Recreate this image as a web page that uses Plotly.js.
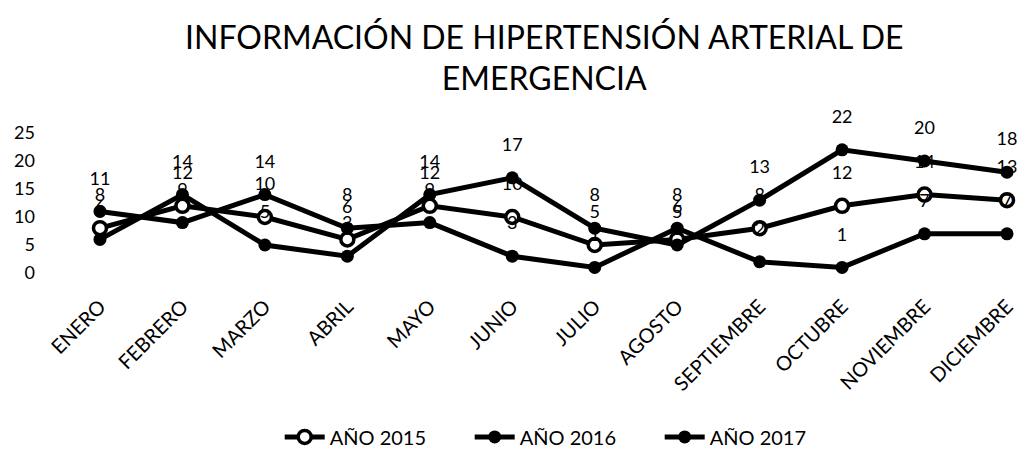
<!DOCTYPE html>
<html>
<head>
<meta charset="utf-8">
<script src="https://cdn.plot.ly/plotly-3.0.1.min.js"></script>
<style>html,body{margin:0;padding:0;background:#fff;}#chart{width:1023px;height:450px;}</style>
</head>
<body>
<div id="chart"></div>
<script>
const months = ["ENERO","FEBRERO","MARZO","ABRIL","MAYO","JUNIO","JULIO","AGOSTO","SEPTIEMBRE","OCTUBRE","NOVIEMBRE","DICIEMBRE"];
const year2015 = [8, 12, 10, 6, 12, 10, 5, 6, 8, 12, 14, 13];
const year2016 = [11, 9, 14, 8, 9, 3, 1, 8, 2, 1, 7, 7];
const year2017 = [6, 14, 5, 3, 14, 17, 8, 5, 13, 22, 20, 18];
const seriesNames = ["AÑO 2015", "AÑO 2016", "AÑO 2017"];

const FONT = "Lato, 'Open Sans', sans-serif";
const allSeries = [year2015, year2016, year2017];
const traces = [];
allSeries.forEach((vals, i) => {
  traces.push({
    x: months, y: vals, name: seriesNames[i], type: "scatter", mode: "lines+markers",
    line: {color: "#000", width: 5},
    marker: {size: 13, color: i === 0 ? "#fff" : "#000", line: {color: "#000", width: i === 0 ? 3.5 : 0}},
    cliponaxis: false
  });
});
allSeries.forEach((vals, i) => {
  traces.push({
    x: months, y: vals, type: "scatter", mode: "markers+text", showlegend: false, hoverinfo: "skip",
    text: vals.map(String), textposition: "top center",
    textfont: {family: FONT, size: 18, color: "#000"},
    marker: {size: 34, opacity: 0},
    cliponaxis: false
  });
});

const layout = {
  width: 1023, height: 450,
  paper_bgcolor: "#fff", plot_bgcolor: "#fff",
  margin: {l: 50, r: 8, t: 133, b: 177},
  title: {text: "INFORMACIÓN DE HIPERTENSIÓN ARTERIAL DE<br>EMERGENCIA", font: {family: FONT, size: 32, color: "#000"},
          x: 0.532, xanchor: "center", y: 0.892, yanchor: "top", yref: "container"},
  xaxis: {type: "category", range: [-0.606, 11.097], showgrid: false, zeroline: false, showline: false, automargin: false,
          tickangle: -45, tickfont: {family: FONT, size: 20, color: "#000"}, ticklabelstandoff: 17},
  yaxis: {range: [0, 25], dtick: 5, showgrid: false, zeroline: false, showline: false, automargin: false,
          tickfont: {family: FONT, size: 18, color: "#000"}, ticklabelstandoff: 14},
  legend: {orientation: "h", x: 0.552, xanchor: "center", xref: "container", y: 0.029, yanchor: "middle", yref: "container",
           font: {family: FONT, size: 20, color: "#000"}, itemwidth: 40, traceorder: "normal",
           entrywidth: 135, entrywidthmode: "pixels"},
  showlegend: true
};
Plotly.newPlot("chart", traces, layout, {staticPlot: true});
</script>
</body>
</html>
